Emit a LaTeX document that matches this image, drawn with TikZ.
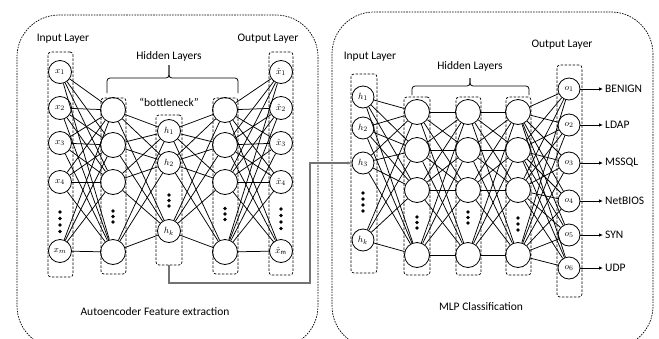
\documentclass[tikz,border=0pt]{standalone}
\usepackage{fontspec}
\setmainfont{Carlito}
\usetikzlibrary{arrows.meta}
\begin{document}
\begin{tikzpicture}[x=1pt,y=-1pt,
  neuron/.style={circle, draw, line width=0.8pt, minimum size=23pt, inner sep=0pt,
                 font=\fontsize{9.5}{10}\selectfont},
  hid/.style={neuron, minimum size=25pt},
  layerbox/.style={draw, dash pattern=on 2.5pt off 1.5pt, rounded corners=3pt,
                   line width=0.7pt, inner sep=0pt},
  panel/.style={draw, dash pattern=on 1.6pt off 1.1pt, rounded corners=42pt, line width=0.7pt},
  edge/.style={line width=0.75pt},
  lab/.style={font=\fontsize{11.5}{13}\selectfont, inner sep=1pt},
  brace/.style={line width=0.8pt, rounded corners=3pt},
  link/.style={draw=black!55, line width=1.3pt, -{Latex[length=4pt,width=3.5pt]}},
  outarrow/.style={line width=0.8pt, -{Latex[length=4pt,width=3.5pt]}},
  dot/.style={fill=black}
]
\useasboundingbox (0,0) rectangle (659,338);
\clip (0,0) rectangle (659,338);

% ---------------- panels ----------------
\draw[panel] (17,15) rectangle (318,348);
\draw[panel] (332,12) rectangle (653,348);

% ---------------- autoencoder: layer boxes ----------------
\node[layerbox, minimum width=25pt, minimum height=225pt] (abox) at (60.5,164.5) {};
\node[layerbox, minimum width=25pt, minimum height=176pt] (bbox) at (113.5,186) {};
\node[layerbox, minimum width=26pt, minimum height=150pt] (cbox) at (169,190) {};
\node[layerbox, minimum width=25pt, minimum height=176pt] (dbox) at (225.5,186) {};
\node[layerbox, minimum width=24pt, minimum height=223pt] (ebox) at (281,163.5) {};

% ---------------- autoencoder: neurons ----------------
\foreach \y/\t [count=\i] in {72/1,108/2,143/3,182/4,251/m}
  \node[neuron] (a\i) at (60,\y) {$x_{\t}$};
\foreach \y [count=\i] in {110,145,182,252}
  \node[hid] (b\i) at (113,\y) {};
\foreach \y/\t [count=\i] in {131/1,163/2,231/k}
  \node[neuron] (c\i) at (169,\y) {$h_{\t}$};
\foreach \y [count=\i] in {110,145,182,252}
  \node[hid] (d\i) at (225,\y) {};
\foreach \y/\t [count=\i] in {72/1,108/2,143/3,182/4,251/\mathrm{m}}
  \node[neuron] (e\i) at (281,\y) {$\hat{x}_{\t}$};

% ---------------- autoencoder: connections ----------------
\foreach \i in {1,...,5} \foreach \j in {1,...,4} \draw[edge] (a\i) -- (b\j);
\foreach \i in {1,...,4} \foreach \j in {1,...,3} \draw[edge] (b\i) -- (c\j);
\foreach \i in {1,...,3} \foreach \j in {1,...,4} \draw[edge] (c\i) -- (d\j);
\foreach \i in {1,...,4} \foreach \j in {1,...,5} \draw[edge] (d\i) -- (e\j);

% ---------------- autoencoder: ellipsis dots ----------------
\foreach \y in {212,218.5,225,231.5} \fill[dot] (60,\y) circle (1.8);
\foreach \y in {211,216.5,222} \fill[dot] (113,\y) circle (1.8);
\foreach \y in {195,200.5,206} \fill[dot] (169,\y) circle (1.8);
\foreach \y in {208.5,214,219.5} \fill[dot] (225,\y) circle (1.8);
\foreach \y in {209,215.5,222,228.5} \fill[dot] (281,\y) circle (1.8);

% ---------------- autoencoder: labels ----------------
\node[lab] (ain) at (63,39) {Input Layer};
\node[lab] (aout) at (268,39) {Output Layer};
\node[lab] (ahid) at (169,56) {Hidden Layers};
\node[lab] (bneck) at (169,102) {“bottleneck”};
\node[lab] (acap) at (155,312) {Autoencoder Feature extraction};
\draw[brace] (107,93) |- (169,78) -- (169,65);
\draw[brace] (238,93) |- (169,78) -- (169,65);

% ---------------- MLP: layer boxes ----------------
\node[layerbox, minimum width=26pt, minimum height=199pt] (pbox) at (364,173.5) {};
\node[layerbox, minimum width=26pt, minimum height=178pt] (qbox) at (417,186) {};
\node[layerbox, minimum width=25pt, minimum height=178pt] (rbox) at (468.5,186) {};
\node[layerbox, minimum width=25pt, minimum height=178pt] (sbox) at (518.5,186) {};
\node[layerbox, minimum width=25pt, minimum height=232pt] (obox) at (569.5,181) {};

% ---------------- MLP: neurons ----------------
\foreach \y/\t [count=\i] in {97/1,128/2,163/3,240/k}
  \node[neuron, minimum size=22pt] (p\i) at (363,\y) {$h_{\t}$};
\foreach \y [count=\i] in {112,150,190,255} {
  \node[hid] (q\i) at (417,\y) {};
  \node[hid] (r\i) at (468,\y) {};
  \node[hid] (s\i) at (518,\y) {};
}
\foreach \y/\t [count=\i] in {89/BENIGN,125/LDAP,163/MSSQL,201/NetBIOS,235/SYN,268/UDP} {
  \node[neuron, minimum size=22pt] (o\i) at (569,\y) {$o_{\i}$};
  \node[lab, anchor=west, inner sep=2pt] (t\i) at (603,\y) {\t};
  \draw[outarrow] (o\i) -- (t\i);
}

% ---------------- MLP: connections ----------------
\foreach \i in {1,...,4} \foreach \j in {1,...,4} {
  \draw[edge] (p\i) -- (q\j);
  \draw[edge] (q\i) -- (r\j);
  \draw[edge] (r\i) -- (s\j);
}
\foreach \i in {1,...,4} \foreach \j in {1,...,6} \draw[edge] (s\i) -- (o\j);

% ---------------- MLP: ellipsis dots ----------------
\foreach \y in {193,199,205,211} \fill[dot] (363,\y) circle (1.8);
\foreach \y in {217,222.5,228} \fill[dot] (417,\y) circle (1.8);
\foreach \y in {212,217.5,223} \fill[dot] (468,\y) circle (1.8);
\foreach \y in {218,224,230} \fill[dot] (518,\y) circle (1.8);

% ---------------- MLP: labels ----------------
\node[lab] (pin) at (370,57) {Input Layer};
\node[lab] (pout) at (562,45) {Output Layer};
\node[lab] (phid) at (470,66) {Hidden Layers};
\node[lab] (pcap) at (481,307) {MLP Classification};
\draw[brace] (412,95) |- (470,86) -- (470,78);
\draw[brace] (529,95) |- (470,86) -- (470,78);

% ---------------- bottleneck features feed the classifier ----------------
\draw[link] (cbox.south) |- (310,283) |- (p3);
\end{tikzpicture}
\end{document}
